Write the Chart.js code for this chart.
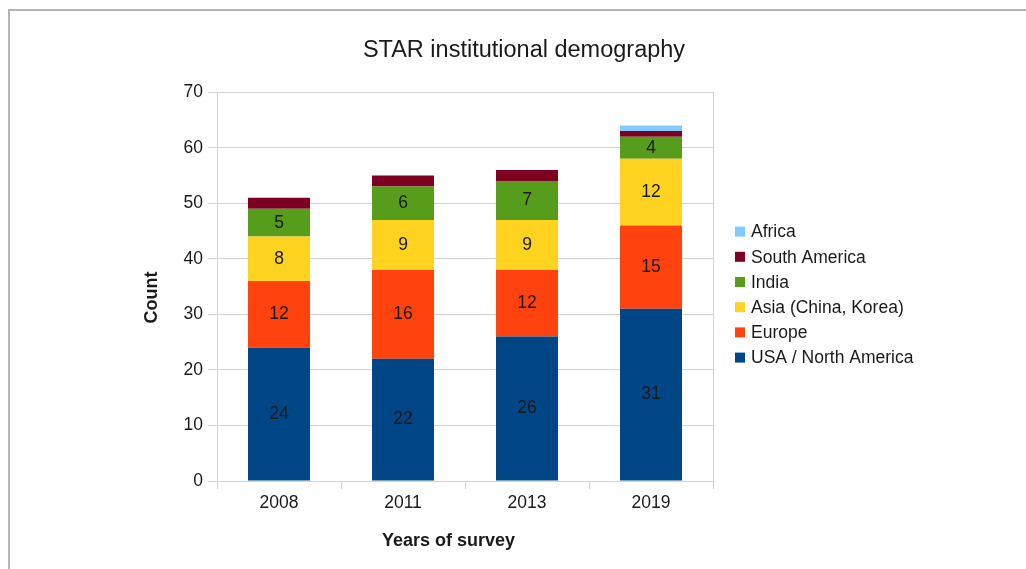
<!DOCTYPE html>
<html>
<head>
<meta charset="utf-8">
<script src="https://cdn.jsdelivr.net/npm/chart.js@4.4.0/dist/chart.umd.min.js"></script>
<style>
  html, body { margin: 0; padding: 0; background: #fff; }
  #frame {
    position: absolute; left: 8px; top: 9px; width: 1030px; height: 580px;
    border-left: 2px solid #b4b4b4; border-top: 2px solid #b4b4b4;
  }
  #wrap { position: absolute; left: 0; top: 0; width: 1026px; height: 569px; }
</style>
</head>
<body>
<div id="frame"></div>
<div id="wrap"><canvas id="demoChart" width="1026" height="569"></canvas></div>
<script>
// Survey years and institution counts per region
const years = ['2008', '2011', '2013', '2019'];
const usa = [24, 22, 26, 31];
const europe = [12, 16, 12, 15];
const asia = [8, 9, 9, 12];
const india = [5, 6, 7, 4];
const southAmerica = [2, 2, 2, 1];
const africa = [0, 0, 0, 1];
const yTicks = [0, 10, 20, 30, 40, 50, 60, 70];

const FONT = '"Liberation Sans", Arial, sans-serif';
const TEXT = '#1a1a1a';
const GRID = '#d4d4d4';

// Writes the count in the middle of each labelled segment
const segmentLabels = {
    id: 'segmentLabels',
    afterDatasetsDraw(chart) {
        const ctx = chart.ctx;
        ctx.save();
        ctx.font = '17.5px ' + FONT;
        ctx.fillStyle = TEXT;
        ctx.textAlign = 'center';
        ctx.textBaseline = 'middle';
        chart.data.datasets.forEach((ds, i) => {
            if (!ds.showValues) return;
            chart.getDatasetMeta(i).data.forEach((bar, j) => {
                const v = ds.data[j];
                if (!v) return;
                ctx.fillText(String(v), bar.x, (bar.y + bar.base) / 2);
            });
        });
        ctx.restore();
    }
};

// Axis titles, a little off-centre like the office chart they come from
const axisTitles = {
    id: 'axisTitles',
    afterDraw(chart) {
        const ctx = chart.ctx;
        const area = chart.chartArea;
        const midX = (area.left + area.right) / 2;
        const midY = (area.top + area.bottom) / 2;
        ctx.save();
        ctx.font = 'bold 18px ' + FONT;
        ctx.fillStyle = TEXT;
        ctx.textAlign = 'center';
        ctx.textBaseline = 'middle';
        ctx.fillText('Years of survey', midX - 16.5, area.bottom + 60);
        ctx.translate(area.left - 65, midY + 11);
        ctx.rotate(-Math.PI / 2);
        ctx.fillText('Count', 0, 0);
        ctx.restore();
    }
};

// Legend to the right of the plot, top series first
const sideLegend = {
    id: 'sideLegend',
    afterDraw(chart) {
        const ctx = chart.ctx;
        const area = chart.chartArea;
        const sets = chart.data.datasets.slice().reverse();
        const rowH = 25.2;
        const x = area.right + 22;
        let y = (area.top + area.bottom) / 2 + 8 - rowH * (sets.length - 1) / 2;
        ctx.save();
        ctx.font = '17.5px ' + FONT;
        ctx.textBaseline = 'middle';
        sets.forEach(ds => {
            ctx.fillStyle = ds.backgroundColor;
            ctx.fillRect(x, y - 5, 10, 10);
            ctx.fillStyle = TEXT;
            ctx.fillText(ds.label, x + 16, y + 1);
            y += rowH;
        });
        ctx.restore();
    }
};

function series(label, data, color, showValues) {
    return {
        label: label,
        data: data,
        backgroundColor: color,
        borderWidth: 0,
        barPercentage: 0.5,
        categoryPercentage: 1.0,
        showValues: showValues
    };
}

new Chart(document.getElementById('demoChart'), {
    type: 'bar',
    data: {
        labels: years,
        datasets: [
            series('USA / North America', usa, '#004586', true),
            series('Europe', europe, '#ff420e', true),
            series('Asia (China, Korea)', asia, '#ffd320', true),
            series('India', india, '#579d1c', true),
            series('South America', southAmerica, '#7e0021', false),
            series('Africa', africa, '#83caff', false)
        ]
    },
    options: {
        responsive: false,
        animation: false,
        layout: { padding: { left: 30, right: 8, top: 36, bottom: 0 } },
        plugins: {
            title: {
                display: true,
                text: 'STAR institutional demography',
                color: TEXT,
                font: { family: FONT, size: 23.5, weight: 'normal' },
                padding: { top: 0, bottom: 28 }
            },
            legend: { display: false },
            tooltip: { enabled: false }
        },
        scales: {
            x: {
                stacked: true,
                grid: {
                    offset: true,
                    drawOnChartArea: false,
                    color: GRID,
                    tickLength: 8
                },
                border: { color: GRID },
                ticks: { color: TEXT, font: { family: FONT, size: 17.5 }, padding: 4 },
                afterFit(axis) {
                    axis.height = 88;
                }
            },
            y: {
                stacked: true,
                min: 0,
                max: 70,
                afterBuildTicks(axis) {
                    axis.ticks = yTicks.map(v => ({ value: v }));
                },
                grid: { color: GRID, tickLength: 9 },
                border: { color: GRID },
                ticks: { color: TEXT, font: { family: FONT, size: 17.5 }, padding: 5 },
                afterFit(axis) {
                    axis.width = 187;
                }
            },
            // right frame line of the plot; its width leaves room for the legend
            yRight: {
                position: 'right',
                min: 0,
                max: 70,
                ticks: { display: false },
                grid: { drawOnChartArea: false, drawTicks: false },
                border: { color: GRID },
                afterFit(axis) {
                    axis.width = 305;
                }
            }
        }
    },
    plugins: [segmentLabels, axisTitles, sideLegend]
});
</script>
</body>
</html>
